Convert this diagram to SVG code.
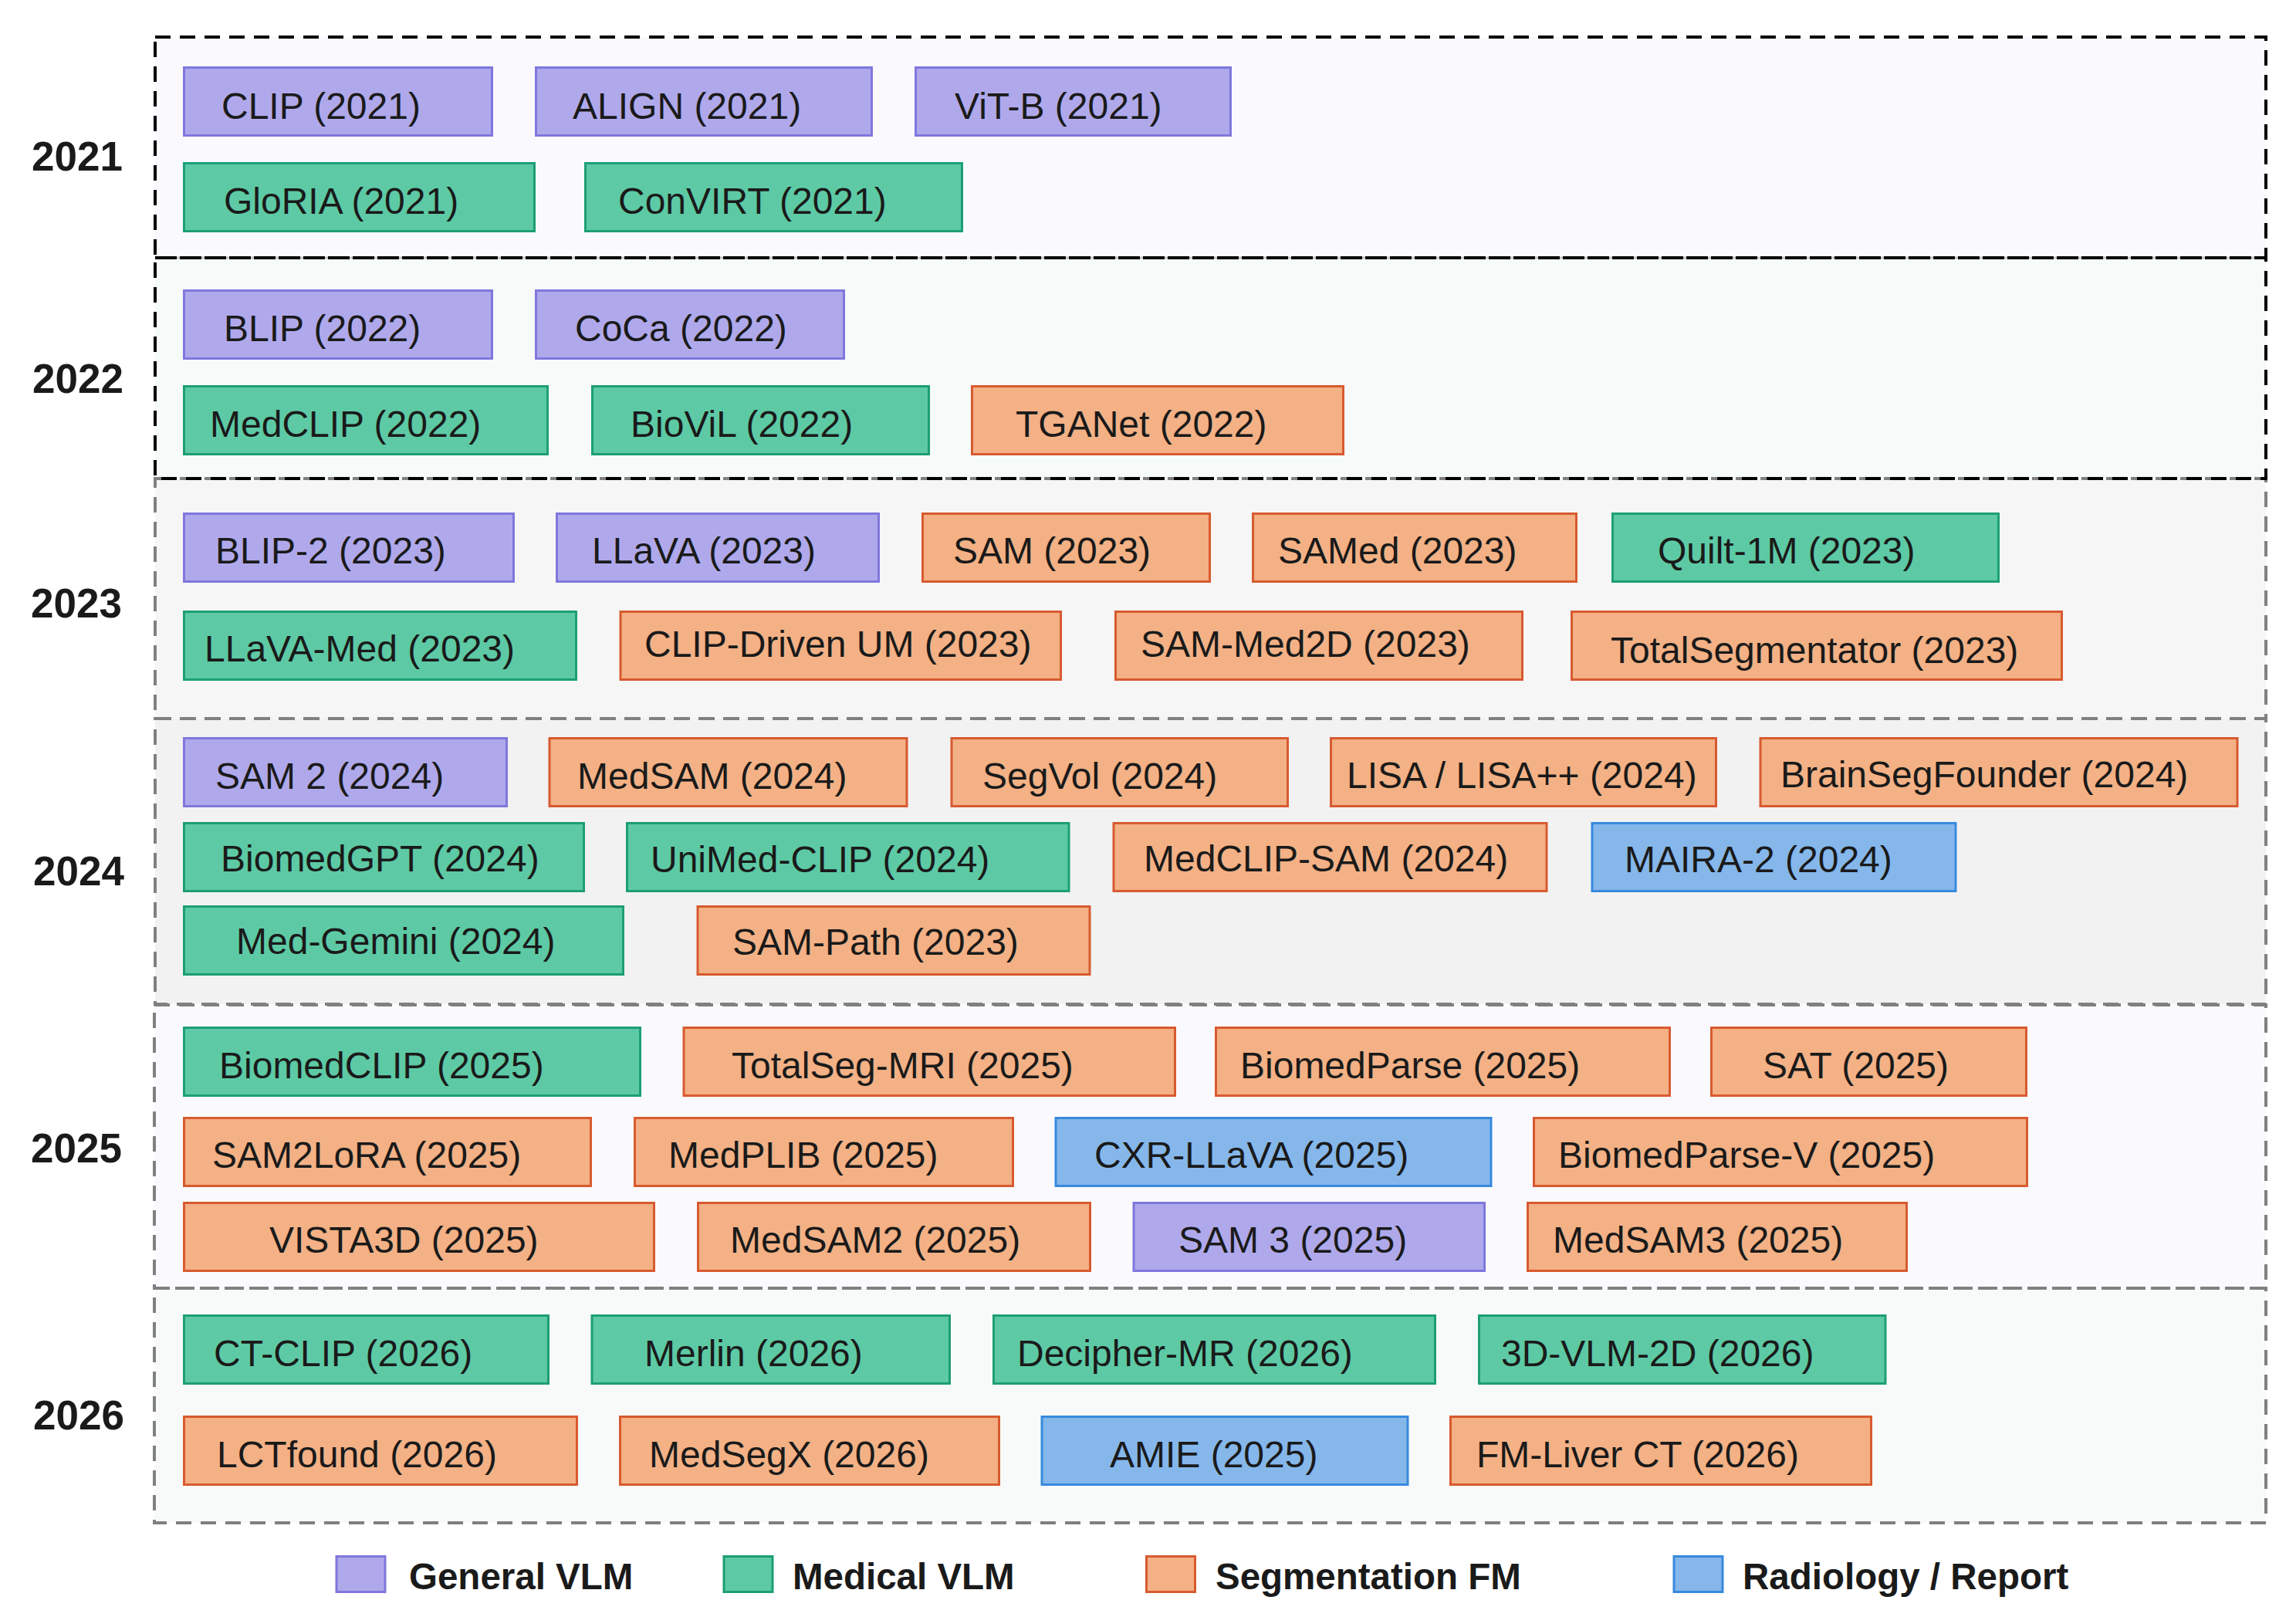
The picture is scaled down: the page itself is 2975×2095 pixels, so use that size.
<svg xmlns="http://www.w3.org/2000/svg" width="2975" height="2095" viewBox="0 0 2975 2095">
<style>
.bg{stroke:none}
.bk{fill:none;stroke:#000;stroke-width:4;stroke-dasharray:20 12}
.gr{fill:none;stroke:#808080;stroke-width:4;stroke-dasharray:20 12}
.node rect,.sw{stroke-width:3}
.gen{fill:#AFA9EC;stroke:#7F77DD}
.med{fill:#5DCAA5;stroke:#1D9E75}
.seg{fill:#F3B185;stroke:#D85A30}
.rad{fill:#85B7EB;stroke:#378ADD}
.node text{font-family:"Liberation Sans",Arial,sans-serif;font-size:48px;fill:#1a1a1a}
.yr{font-family:"Liberation Sans",Arial,sans-serif;font-size:53px;font-weight:bold;fill:#1a1a1a;text-anchor:middle}
.lg{font-family:"Liberation Sans",Arial,sans-serif;font-size:47.5px;font-weight:bold;fill:#1a1a1a}
</style>
<rect width="2975" height="2095" fill="#ffffff"/>
<g id="bands">
<rect class="bg" x="201" y="48" width="2735" height="286" fill="#FAFAFE"/>
<rect class="bg" x="201" y="334" width="2735" height="286" fill="#F6FAF9"/>
<rect class="bg" x="201" y="620" width="2735" height="311" fill="#F6F6F6"/>
<rect class="bg" x="201" y="931" width="2735" height="370" fill="#F2F2F2"/>
<rect class="bg" x="200" y="1302" width="2736" height="367" fill="#FAFAFE"/>
<rect class="bg" x="200" y="1669" width="2736" height="304" fill="#F7FAF9"/>
<rect class="gr" x="201" y="620" width="2735" height="311"/>
<rect class="gr" x="201" y="931" width="2735" height="370"/>
<rect class="gr" x="200" y="1302" width="2736" height="367"/>
<rect class="gr" x="200" y="1669" width="2736" height="304"/>
<line x1="201" y1="334" x2="2936" y2="334" stroke="#c8c8c8" stroke-width="3"/>
<rect class="bk" x="201" y="48" width="2735" height="286"/>
<rect class="bk" x="201" y="334" width="2735" height="286"/>
</g>
<g id="years">
<text class="yr" x="100" y="221">2021</text>
<text class="yr" x="101" y="509">2022</text>
<text class="yr" x="99" y="800">2023</text>
<text class="yr" x="102" y="1147">2024</text>
<text class="yr" x="99" y="1506">2025</text>
<text class="yr" x="102" y="1852">2026</text>
</g>
<g id="connectors"></g>
<g id="nodes">
<g id="n-clip" class="node"><rect class="gen" x="238.5" y="87.5" width="399" height="88"/><text x="287" y="154">CLIP (2021)</text></g>
<g id="n-align" class="node"><rect class="gen" x="694.5" y="87.5" width="435" height="88"/><text x="742" y="154">ALIGN (2021)</text></g>
<g id="n-vitb" class="node"><rect class="gen" x="1186.5" y="87.5" width="408" height="88"/><text x="1237" y="154">ViT-B (2021)</text></g>
<g id="n-gloria" class="node"><rect class="med" x="238.5" y="211.5" width="454" height="88"/><text x="290" y="277">GloRIA (2021)</text></g>
<g id="n-convirt" class="node"><rect class="med" x="758.5" y="211.5" width="488" height="88"/><text x="801" y="277">ConVIRT (2021)</text></g>

<g id="n-blip" class="node"><rect class="gen" x="238.5" y="376.5" width="399" height="88"/><text x="290" y="442">BLIP (2022)</text></g>
<g id="n-coca" class="node"><rect class="gen" x="694.5" y="376.5" width="399" height="88"/><text x="745" y="442">CoCa (2022)</text></g>
<g id="n-medclip" class="node"><rect class="med" x="238.5" y="500.5" width="471" height="88"/><text x="272" y="566">MedCLIP (2022)</text></g>
<g id="n-biovil" class="node"><rect class="med" x="767.5" y="500.5" width="436" height="88"/><text x="817" y="566">BioViL (2022)</text></g>
<g id="n-tganet" class="node"><rect class="seg" x="1259.5" y="500.5" width="481" height="88"/><text x="1316" y="566">TGANet (2022)</text></g>

<g id="n-blip2" class="node"><rect class="gen" x="238.5" y="665.5" width="427" height="88"/><text x="279" y="730">BLIP-2 (2023)</text></g>
<g id="n-llava" class="node"><rect class="gen" x="721.5" y="665.5" width="417" height="88"/><text x="767" y="730">LLaVA (2023)</text></g>
<g id="n-sam" class="node"><rect class="seg" x="1195.5" y="665.5" width="372" height="88"/><text x="1235" y="730">SAM (2023)</text></g>
<g id="n-samed" class="node"><rect class="seg" x="1623.5" y="665.5" width="419" height="88"/><text x="1656" y="730">SAMed (2023)</text></g>
<g id="n-quilt" class="node"><rect class="med" x="2089.5" y="665.5" width="500" height="88"/><text x="2148" y="730">Quilt-1M (2023)</text></g>
<g id="n-llavamed" class="node"><rect class="med" x="238.5" y="792.5" width="508" height="88"/><text x="265" y="857">LLaVA-Med (2023)</text></g>
<g id="n-clipdriven" class="node"><rect class="seg" x="804" y="792.5" width="570.5" height="88"/><text x="835" y="851">CLIP-Driven UM (2023)</text></g>
<g id="n-sammed2d" class="node"><rect class="seg" x="1445.5" y="792.5" width="527" height="88"/><text x="1478" y="851">SAM-Med2D (2023)</text></g>
<g id="n-totalseg" class="node"><rect class="seg" x="2036.5" y="792.5" width="635" height="88"/><text x="2087" y="859">TotalSegmentator (2023)</text></g>

<g id="n-sam2" class="node"><rect class="gen" x="238.5" y="956.5" width="418" height="88"/><text x="279" y="1022">SAM 2 (2024)</text></g>
<g id="n-medsam" class="node"><rect class="seg" x="712" y="956.5" width="463" height="88"/><text x="748" y="1022">MedSAM (2024)</text></g>
<g id="n-segvol" class="node"><rect class="seg" x="1233" y="956.5" width="435.5" height="88"/><text x="1273" y="1022">SegVol (2024)</text></g>
<g id="n-lisa" class="node"><rect class="seg" x="1724.5" y="956.5" width="499" height="88"/><text x="1745" y="1021">LISA / LISA++ (2024)</text></g>
<g id="n-brainseg" class="node"><rect class="seg" x="2281" y="956.5" width="618" height="88"/><text x="2307" y="1020">BrainSegFounder (2024)</text></g>
<g id="n-biomedgpt" class="node"><rect class="med" x="238.5" y="1066.5" width="518" height="88"/><text x="286" y="1129">BiomedGPT (2024)</text></g>
<g id="n-unimed" class="node"><rect class="med" x="812.5" y="1066.5" width="572.5" height="88"/><text x="843" y="1130">UniMed-CLIP (2024)</text></g>
<g id="n-medclipsam" class="node"><rect class="seg" x="1443" y="1066.5" width="561" height="88"/><text x="1482" y="1129">MedCLIP-SAM (2024)</text></g>
<g id="n-maira" class="node"><rect class="rad" x="2063" y="1066.5" width="471" height="88"/><text x="2105" y="1130">MAIRA-2 (2024)</text></g>
<g id="n-medgemini" class="node"><rect class="med" x="238.5" y="1174.5" width="569" height="88"/><text x="306" y="1236">Med-Gemini (2024)</text></g>
<g id="n-sampath" class="node"><rect class="seg" x="904" y="1174.5" width="508" height="88"/><text x="949" y="1237">SAM-Path (2023)</text></g>

<g id="n-biomedclip" class="node"><rect class="med" x="238.5" y="1331.5" width="591" height="88"/><text x="284" y="1397">BiomedCLIP (2025)</text></g>
<g id="n-totalsegmri" class="node"><rect class="seg" x="886" y="1331.5" width="636.5" height="88"/><text x="948" y="1397">TotalSeg-MRI (2025)</text></g>
<g id="n-biomedparse" class="node"><rect class="seg" x="1575.5" y="1331.5" width="588" height="88"/><text x="1607" y="1397">BiomedParse (2025)</text></g>
<g id="n-sat" class="node"><rect class="seg" x="2217.5" y="1331.5" width="408" height="88"/><text x="2284" y="1397">SAT (2025)</text></g>
<g id="n-sam2lora" class="node"><rect class="seg" x="238.5" y="1448.5" width="527" height="88"/><text x="275" y="1513">SAM2LoRA (2025)</text></g>
<g id="n-medplib" class="node"><rect class="seg" x="822.5" y="1448.5" width="490" height="88"/><text x="866" y="1513">MedPLIB (2025)</text></g>
<g id="n-cxrllava" class="node"><rect class="rad" x="1368" y="1448.5" width="564" height="88"/><text x="1418" y="1513">CXR-LLaVA (2025)</text></g>
<g id="n-biomedparsev" class="node"><rect class="seg" x="1987.5" y="1448.5" width="639" height="88"/><text x="2019" y="1513">BiomedParse-V (2025)</text></g>
<g id="n-vista3d" class="node"><rect class="seg" x="238.5" y="1558.5" width="609" height="88"/><text x="349" y="1623">VISTA3D (2025)</text></g>
<g id="n-medsam2" class="node"><rect class="seg" x="904.5" y="1558.5" width="508" height="88"/><text x="946" y="1623">MedSAM2 (2025)</text></g>
<g id="n-sam3" class="node"><rect class="gen" x="1469" y="1558.5" width="454.5" height="88"/><text x="1527" y="1623">SAM 3 (2025)</text></g>
<g id="n-medsam3" class="node"><rect class="seg" x="1979.5" y="1558.5" width="491" height="88"/><text x="2012" y="1623">MedSAM3 (2025)</text></g>

<g id="n-ctclip" class="node"><rect class="med" x="238.5" y="1704.5" width="472" height="88"/><text x="277" y="1770">CT-CLIP (2026)</text></g>
<g id="n-merlin" class="node"><rect class="med" x="767" y="1704.5" width="463.5" height="88"/><text x="835" y="1770">Merlin (2026)</text></g>
<g id="n-decipher" class="node"><rect class="med" x="1287.5" y="1704.5" width="572" height="88"/><text x="1318" y="1770">Decipher-MR (2026)</text></g>
<g id="n-3dvlm" class="node"><rect class="med" x="1916.5" y="1704.5" width="526.5" height="88"/><text x="1945" y="1770">3D-VLM-2D (2026)</text></g>
<g id="n-lctfound" class="node"><rect class="seg" x="238.5" y="1835.5" width="509" height="88"/><text x="281" y="1901">LCTfound (2026)</text></g>
<g id="n-medsegx" class="node"><rect class="seg" x="803.5" y="1835.5" width="491" height="88"/><text x="841" y="1901">MedSegX (2026)</text></g>
<g id="n-amie" class="node"><rect class="rad" x="1350" y="1835.5" width="474" height="88"/><text x="1438" y="1901">AMIE (2025)</text></g>
<g id="n-fmliver" class="node"><rect class="seg" x="1879.5" y="1835.5" width="545" height="88"/><text x="1913" y="1901">FM-Liver CT (2026)</text></g>
</g>
<g id="legend">
<rect class="sw gen" x="436" y="2016.5" width="63" height="46"/><text class="lg" x="530" y="2059">General VLM</text>
<rect class="sw med" x="938" y="2016.5" width="63" height="46"/><text class="lg" x="1027" y="2059">Medical VLM</text>
<rect class="sw seg" x="1485.5" y="2016.5" width="63" height="46"/><text class="lg" x="1575" y="2059">Segmentation FM</text>
<rect class="sw rad" x="2169" y="2016.5" width="63" height="46"/><text class="lg" x="2258" y="2059">Radiology / Report</text>
</g>
</svg>
